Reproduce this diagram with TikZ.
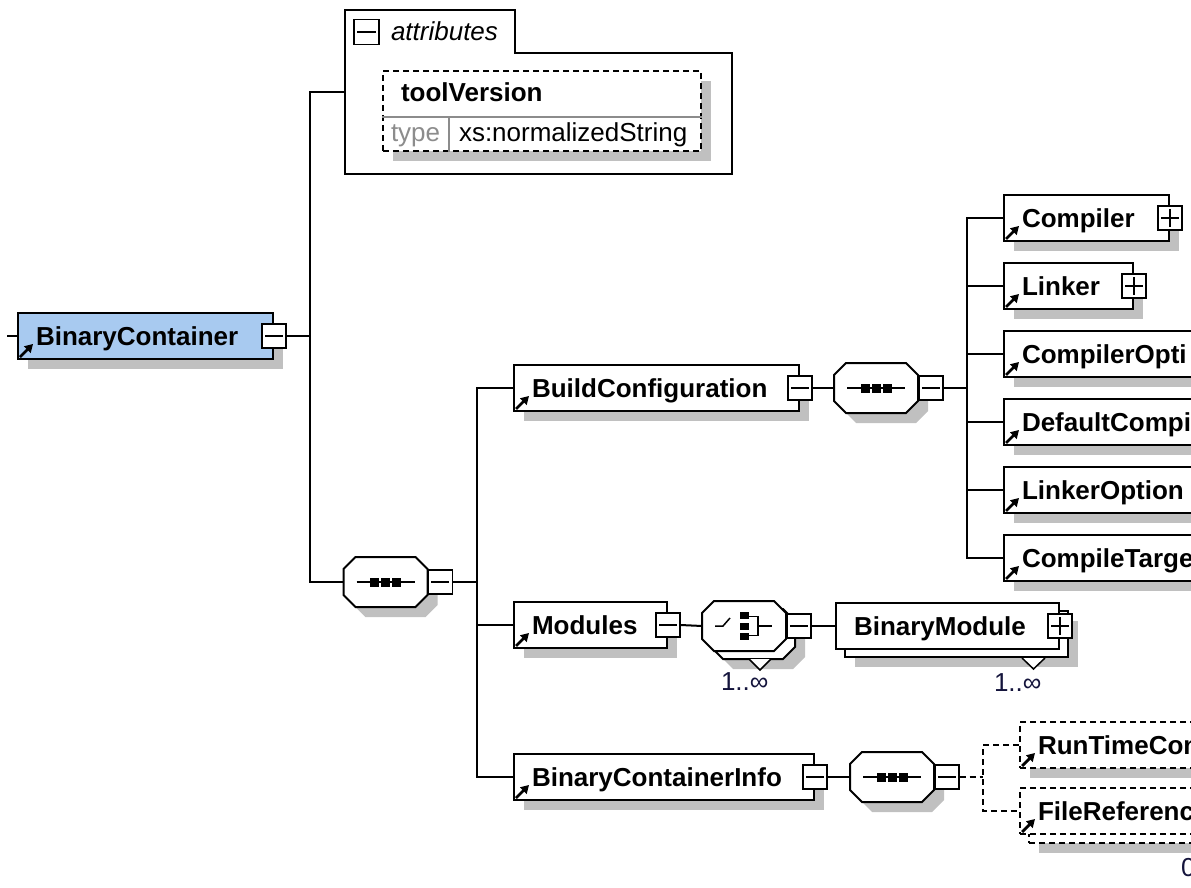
\documentclass[tikz,border=0pt]{standalone}
\usepackage{fontspec}
\setmainfont{Liberation Sans}
\usetikzlibrary{arrows.meta,positioning,shadows}
\definecolor{selblue}{RGB}{168,202,240}
\definecolor{shadegray}{RGB}{192,192,192}
\definecolor{typegray}{RGB}{140,140,140}
\definecolor{inkdark}{RGB}{20,20,60}
% octagon of a compositor, drawn round an empty node
\newcommand{\octshape}[2][draw,fill=white]{\path[#1] ([xshift=12pt]#2.north west) -- ([xshift=-12pt]#2.north east)
  -- ([yshift=-12pt]#2.north east) -- ([yshift=12pt]#2.south east) -- ([xshift=-12pt]#2.south east)
  -- ([xshift=12pt]#2.south west) -- ([yshift=12pt]#2.south west) -- ([yshift=-12pt]#2.north west) -- cycle;}
\newcommand{\octshadow}[1]{\begin{scope}[transform canvas={shift={(10pt,-10pt)}}]\octshape[fill=shadegray]{#1}\end{scope}}
\newcommand{\seqicon}[1]{\begin{scope}[shift={(#1.center)},line width=1.5pt]
  \draw (-29,0) -- (29,0);
  \foreach \dx in {-11,0,11} \fill[black] (\dx-4.5,-4.5) rectangle (\dx+4.5,4.5);
  \end{scope}}
\newcommand{\choiceicon}[1]{\begin{scope}[shift={(#1.center)},line width=1.5pt]
  \draw (-29,0) -- (-21,0) -- (-14,-8);
  \fill[black] (-4.5,-14) rectangle (4.5,-7);
  \fill[black] (-4.5,-3.5) rectangle (4.5,3.5);
  \fill[black] (-4.5,7) rectangle (4.5,14);
  \draw (4,-9.5) -- (14,-9.5) -- (14,9.5) -- (4,9.5);
  \draw (14,0) -- (28,0);
  \end{scope}}

\begin{document}
\begin{tikzpicture}[
 x=1pt,y=-1pt,
 line width=2pt,
 every node/.style={inner sep=0pt},
 boxshadow/.style={drop shadow={shadow xshift=10pt,shadow yshift=-10pt,fill=shadegray,opacity=1}},
 elem/.style={draw,fill=white,minimum height=46pt,anchor=west},
 optional/.style={dash pattern=on 6pt off 4pt},
 octbox/.style={minimum width=82pt,minimum height=48pt},
 minusbox/.style={draw,fill=white,line width=1.5pt,minimum size=24pt,
   path picture={\draw[black,line width=1.5pt] ([xshift=3pt]path picture bounding box.west) -- ([xshift=-3pt]path picture bounding box.east);}},
 plusbox/.style={draw,fill=white,line width=1.5pt,minimum size=24pt,
   path picture={\draw[black,line width=1.5pt] ([xshift=3pt]path picture bounding box.west) -- ([xshift=-3pt]path picture bounding box.east);
     \draw[black,line width=1.5pt] ([yshift=3pt]path picture bounding box.south) -- ([yshift=-3pt]path picture bounding box.north);}},
 notch/.style={fill=white,line width=1.5pt},
 refarrow/.style={line width=2.8pt,-{Triangle[length=8pt,width=9pt]}},
 ename/.style={font=\fontsize{26}{30}\selectfont\bfseries,anchor=base west},
 plain/.style={font=\fontsize{26}{30}\selectfont,anchor=base west},
 occ/.style={plain,text=inkdark}
]
\useasboundingbox (0,0) rectangle (1191,888);
\fill[white] (0,0) rectangle (1191,888);
\clip (0,0) rectangle (1191,888);

% root element
\coordinate (in0) at (7,336);
\node[elem,fill=selblue,boxshadow,minimum width=255pt] (bc) at (17,336) {};
\node[ename] (bct) at ([xshift=18pt,yshift=-9pt]bc.west) {BinaryContainer};
\draw[refarrow] ([shift={(3pt,3pt)}]bc.south west) -- ([shift={(16pt,16pt)}]bc.south west);
\node[minusbox] (bcm) at (bc.east) {};
\draw (in0) -- (bc.west);

% attributes
\node[minimum width=385pt,minimum height=162pt,anchor=north west] (attr) at (345,10) {};
\draw[fill=white] (attr.south west) -- (attr.north west) -- ([xshift=170pt]attr.north west)
  -- ([xshift=170pt,yshift=-43pt]attr.north west) -- ([yshift=-43pt]attr.north east) -- (attr.south east) -- cycle;
\node[minusbox,minimum size=25pt] (attrm) at (366.5,32) {};
\node[plain,font=\fontsize{26}{30}\selectfont\itshape] (attrt) at (390,41) {attributes};
\node[elem,optional,boxshadow,minimum width=318pt,minimum height=80pt,anchor=north west] (tv) at (382,70) {};
\draw[line width=1.2pt,typegray] ([yshift=-6pt]tv.west) -- ([yshift=-6pt]tv.east);
\draw[line width=1.2pt,typegray] ([xshift=67pt,yshift=-6pt]tv.west) -- ([xshift=67pt]tv.south west);
\node[ename] (tvn) at (400,102) {toolVersion};
\node[plain,text=typegray] (tvk) at (390,142) {type};
\node[plain] (tvv) at (458,142) {xs:normalizedString};

% sequence of the root
\node[octbox] (s1) at (385.5,582) {};
\octshadow{s1}\octshape{s1}\seqicon{s1}
\node[minusbox,right=0pt of s1] (s1m) {};
\coordinate (sp1) at (310,336);
\draw (bcm.east) -- (sp1);
\draw (attr.west) -| (sp1) |- (s1.west);

% BuildConfiguration
\node[elem,boxshadow,minimum width=285pt] (bcfg) at (513,388) {};
\node[ename] (bcfgt) at ([xshift=18pt,yshift=-9pt]bcfg.west) {BuildConfiguration};
\draw[refarrow] ([shift={(3pt,3pt)}]bcfg.south west) -- ([shift={(16pt,16pt)}]bcfg.south west);
\node[minusbox] (bcfgm) at (bcfg.east) {};
\node[octbox] (s2) at (876,388) {};
\octshadow{s2}\octshape{s2}\seqicon{s2}
\node[minusbox,right=0pt of s2] (s2m) {};
\draw (bcfgm.east) -- (s2.west);

% children of BuildConfiguration
\node[elem,boxshadow,minimum width=165pt] (cmp) at (1003,218) {};
\node[ename] (cmpt) at ([xshift=18pt,yshift=-9pt]cmp.west) {Compiler};
\draw[refarrow] ([shift={(3pt,3pt)}]cmp.south west) -- ([shift={(16pt,16pt)}]cmp.south west);
\node[plusbox] (cmpp) at (cmp.east) {};

\node[elem,boxshadow,minimum width=129pt] (lnk) at (1003,286) {};
\node[ename] (lnkt) at ([xshift=18pt,yshift=-9pt]lnk.west) {Linker};
\draw[refarrow] ([shift={(3pt,3pt)}]lnk.south west) -- ([shift={(16pt,16pt)}]lnk.south west);
\node[plusbox] (lnkp) at (lnk.east) {};

\node[elem,boxshadow,minimum width=240pt] (copt) at (1003,354) {};
\node[ename] (coptt) at ([xshift=18pt,yshift=-9pt]copt.west) {CompilerOpti};
\draw[refarrow] ([shift={(3pt,3pt)}]copt.south west) -- ([shift={(16pt,16pt)}]copt.south west);

\node[elem,boxshadow,minimum width=240pt] (dcopt) at (1003,422) {};
\node[ename] (dcoptt) at ([xshift=18pt,yshift=-9pt]dcopt.west) {DefaultCompi};
\draw[refarrow] ([shift={(3pt,3pt)}]dcopt.south west) -- ([shift={(16pt,16pt)}]dcopt.south west);

\node[elem,boxshadow,minimum width=240pt] (lopt) at (1003,490) {};
\node[ename] (loptt) at ([xshift=18pt,yshift=-9pt]lopt.west) {LinkerOption};
\draw[refarrow] ([shift={(3pt,3pt)}]lopt.south west) -- ([shift={(16pt,16pt)}]lopt.south west);

\node[elem,boxshadow,minimum width=240pt] (ctgt) at (1003,558) {};
\node[ename] (ctgtt) at ([xshift=18pt,yshift=-9pt]ctgt.west) {CompileTarge};
\draw[refarrow] ([shift={(3pt,3pt)}]ctgt.south west) -- ([shift={(16pt,16pt)}]ctgt.south west);

\coordinate (sp3) at (967,388);
\draw (s2m.east) -- (sp3);
\draw (cmp.west) -| (sp3) |- (ctgt.west);
\draw (sp3) |- (lnk.west);
\draw (sp3) |- (copt.west);
\draw (sp3) |- (dcopt.west);
\draw (sp3) |- (lopt.west);

% Modules
\node[elem,boxshadow,minimum width=153pt] (mods) at (513,625) {};
\node[ename] (modst) at ([xshift=18pt,yshift=-9pt]mods.west) {Modules};
\draw[refarrow] ([shift={(3pt,3pt)}]mods.south west) -- ([shift={(16pt,16pt)}]mods.south west);
\node[minusbox] (modsm) at (mods.east) {};
\node[octbox] (chb) at (753,634) {};
\octshadow{chb}\octshape{chb}
\draw[notch] ([xshift=-46pt]chb.south east) -- ([xshift=-35pt,yshift=-11pt]chb.south east) -- ([xshift=-24pt]chb.south east);
\node[octbox] (ch) at (744,626) {};
\octshape{ch}\choiceicon{ch}
\node[minusbox,right=0pt of ch] (chm) {};
\node[occ] (chocc) at (720,690) {1..∞};
\draw (modsm.east) -- (ch.west);

% BinaryModule
\node[elem,boxshadow,minimum width=223pt] (bmb) at (844,634) {};
\draw[notch] ([xshift=-47pt]bmb.south east) -- ([xshift=-35.5pt,yshift=-11pt]bmb.south east) -- ([xshift=-24pt]bmb.south east);
\node[elem,minimum width=223pt] (bm) at (835,626) {};
\node[ename] (bmt) at ([xshift=18pt,yshift=-9pt]bm.west) {BinaryModule};
\node[plusbox] (bmp) at (bm.east) {};
\node[occ] (bmocc) at (993,691) {1..∞};
\draw (chm.east) -- (bm.west);

% BinaryContainerInfo
\node[elem,boxshadow,minimum width=300pt] (bci) at (513,777) {};
\node[ename] (bcit) at ([xshift=18pt,yshift=-9pt]bci.west) {BinaryContainerInfo};
\draw[refarrow] ([shift={(3pt,3pt)}]bci.south west) -- ([shift={(16pt,16pt)}]bci.south west);
\node[minusbox] (bcim) at (bci.east) {};
\node[octbox] (s3) at (892,777) {};
\octshadow{s3}\octshape{s3}\seqicon{s3}
\node[minusbox,right=0pt of s3] (s3m) {};
\draw (bcim.east) -- (s3.west);

\coordinate (sp2) at (477,582);
\draw (s1m.east) -- (sp2);
\draw (bcfg.west) -| (sp2) |- (bci.west);
\draw (sp2) |- (mods.west);

% optional children of BinaryContainerInfo
\node[elem,optional,boxshadow,minimum width=240pt] (rtc) at (1019,745) {};
\node[ename] (rtct) at ([xshift=18pt,yshift=-9pt]rtc.west) {RunTimeCon};
\draw[refarrow] ([shift={(3pt,3pt)}]rtc.south west) -- ([shift={(16pt,16pt)}]rtc.south west);

\node[elem,optional,boxshadow,minimum width=240pt] (frefb) at (1028,820) {};
\node[elem,optional,minimum width=240pt] (fref) at (1019,811) {};
\node[ename] (freft) at ([xshift=18pt,yshift=-9pt]fref.west) {FileReferenc};
\draw[refarrow] ([shift={(3pt,3pt)}]fref.south west) -- ([shift={(16pt,16pt)}]fref.south west);
\node[occ] (frefocc) at (1180,876) {0};

\coordinate (sp4) at (983,777);
\draw[optional] (s3m.east) -- (sp4);
\draw[optional] (rtc.west) -| (sp4) |- (fref.west);
\end{tikzpicture}
\end{document}
